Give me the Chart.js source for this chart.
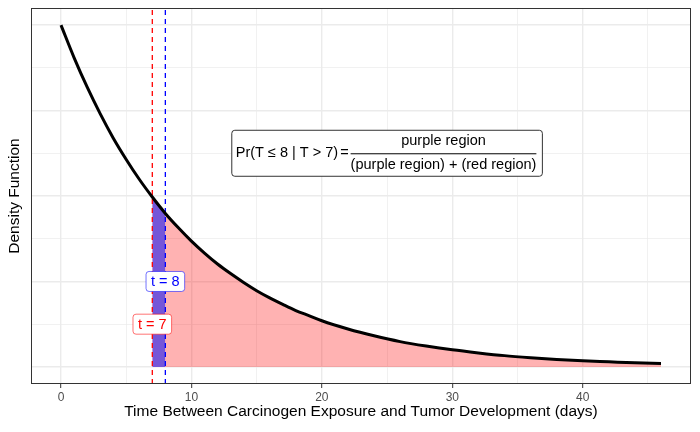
<!DOCTYPE html>
<html>
<head>
<meta charset="utf-8">
<script src="https://cdn.jsdelivr.net/npm/chart.js@4.4.0/dist/chart.umd.min.js"></script>
<style>
  html, body { margin: 0; padding: 0; background: #fff; }
  #wrap { width: 700px; height: 432px; }
</style>
</head>
<body>
<div id="wrap"><canvas id="density-chart"></canvas></div>
<script>
// time (days) and density
let days = [0, 1, 2, 3, 4, 5, 6, 7, 8, 9, 10, 11, 12, 13, 14, 15, 16, 17, 18, 19, 20,
  22, 24, 26, 28, 30, 32, 34, 36, 38, 40, 42, 44, 46];
let density = [0.1000, 0.0905, 0.0819, 0.0741, 0.0670, 0.0607, 0.0549, 0.0497, 0.0449,
  0.0407, 0.0368, 0.0333, 0.0301, 0.0273, 0.0247, 0.0223, 0.0202, 0.0183, 0.0165, 0.0150,
  0.0135, 0.0111, 0.0091, 0.0074, 0.0061, 0.0050, 0.0041, 0.0033, 0.0027, 0.0022, 0.0018,
  0.0015, 0.0012, 0.0010];

let xTicks = [0, 5, 10, 15, 20, 25, 30, 35, 40, 45];
let yGrid = [0, 0.0125, 0.025, 0.0375, 0.05, 0.0625, 0.075, 0.0875, 0.1];

let tLower = 7;
let tUpper = 8;
let xMin = -2.3, xMax = 48.3;
let yMin = -0.005, yMax = 0.105;

const FONT = '"Liberation Sans", Arial, sans-serif';

let points = days.map((d, i) => ({ x: d, y: density[i] }));
let redPoints = points.filter((p) => p.x >= tLower);
let purplePoints = points.filter((p) => p.x >= tLower && p.x <= tUpper);

function isMajor(v, step) {
  let r = v / step;
  return Math.abs(r - Math.round(r)) < 1e-6;
}

function tag(ctx, text, cx, cy, color, border) {
  ctx.font = "14.5px " + FONT;
  let w = ctx.measureText(text).width + 10;
  let h = 20;
  ctx.beginPath();
  ctx.roundRect(cx - w / 2, cy - h / 2, w, h, 3);
  ctx.fillStyle = "#fff";
  ctx.fill();
  ctx.strokeStyle = border;
  ctx.lineWidth = 1;
  ctx.stroke();
  ctx.fillStyle = color;
  ctx.textAlign = "center";
  ctx.textBaseline = "middle";
  ctx.fillText(text, cx, cy + 1);
}

const overlay = {
  id: "overlay",
  afterDatasetsDraw(chart) {
    const { ctx, chartArea: a, scales } = chart;
    const x = scales.x, y = scales.y;
    ctx.save();

    // panel border
    ctx.strokeStyle = "#333";
    ctx.lineWidth = 1;
    ctx.strokeRect(a.left + 0.5, a.top + 0.5, a.width - 1, a.height - 1);

    tag(ctx, "t = 8", x.getPixelForValue(tUpper), y.getPixelForValue(0.025), "#0000FF", "rgba(0,0,255,0.55)");
    tag(ctx, "t = 7", x.getPixelForValue(tLower), y.getPixelForValue(0.0125), "#FF0000", "rgba(255,0,0,0.55)");

    // probability formula
    let cx = x.getPixelForValue(25), cy = y.getPixelForValue(0.0625);
    ctx.font = "14.5px " + FONT;
    let lhs = "Pr(T \u2264 8 | T > 7)";
    let num = "purple region";
    let den = "(purple region) + (red region)";
    let wl = ctx.measureText(lhs).width;
    let we = ctx.measureText("=").width;
    let wd = ctx.measureText(den).width;
    let gap = 2, pad = 4;
    let bw = wl + gap + we + gap + wd + pad * 2 + 2;
    let bh = 46;
    let bx = cx - bw / 2, by = cy - bh / 2;
    ctx.beginPath();
    ctx.roundRect(bx, by, bw, bh, 3);
    ctx.fillStyle = "#fff";
    ctx.fill();
    ctx.strokeStyle = "#333";
    ctx.stroke();

    ctx.fillStyle = "#000";
    ctx.textBaseline = "middle";
    ctx.textAlign = "left";
    let tx = bx + pad;
    ctx.fillText(lhs, tx, cy);
    tx += wl + gap;
    ctx.fillText("=", tx, cy);
    tx += we + gap;
    ctx.beginPath();
    ctx.moveTo(tx, cy + 0.5);
    ctx.lineTo(tx + wd, cy + 0.5);
    ctx.strokeStyle = "#000";
    ctx.stroke();
    ctx.textAlign = "center";
    ctx.fillText(num, tx + wd / 2, cy - 12);
    ctx.fillText(den, tx + wd / 2, cy + 12);

    ctx.restore();
  },
};

new Chart(document.getElementById("density-chart"), {
  type: "line",
  data: {
    datasets: [
      {
        data: points,
        borderColor: "#000",
        borderWidth: 3,
        pointRadius: 0,
        fill: false,
        cubicInterpolationMode: "monotone",
        order: 0,
      },
      {
        data: [{ x: tLower, y: yMin }, { x: tLower, y: yMax }],
        borderColor: "#FF0000",
        borderWidth: 1.3,
        borderDash: [5, 4],
        pointRadius: 0,
        fill: false,
        order: 1,
      },
      {
        data: [{ x: tUpper, y: yMin }, { x: tUpper, y: yMax }],
        borderColor: "#0000FF",
        borderWidth: 1.3,
        borderDash: [5, 4],
        pointRadius: 0,
        fill: false,
        order: 1,
      },
      {
        data: purplePoints,
        borderWidth: 0,
        borderColor: "rgba(0,0,0,0)",
        backgroundColor: "#7556D8",
        pointRadius: 0,
        fill: "origin",
        cubicInterpolationMode: "monotone",
        order: 2,
      },
      {
        data: redPoints,
        borderWidth: 0,
        borderColor: "rgba(0,0,0,0)",
        backgroundColor: "rgba(255,0,0,0.3)",
        pointRadius: 0,
        fill: "origin",
        cubicInterpolationMode: "monotone",
        order: 3,
      },
    ],
  },
  options: {
    responsive: true,
    maintainAspectRatio: false,
    animation: false,
    layout: { padding: { top: 8, right: 9, left: 0, bottom: 0 } },
    plugins: {
      legend: { display: false },
      tooltip: { enabled: false },
    },
    scales: {
      x: {
        type: "linear",
        min: xMin,
        max: xMax,
        afterBuildTicks: (axis) => {
          axis.ticks = xTicks.map((v) => ({ value: v }));
        },
        afterFit: (scale) => {
          scale.height = 48;
        },
        border: { display: false },
        grid: {
          color: "#EBEBEB",
          lineWidth: (c) => (isMajor(c.tick.value, 10) ? 1.4 : 0.7),
          tickColor: (c) => (isMajor(c.tick.value, 10) ? "#333" : "rgba(0,0,0,0)"),
          tickWidth: 1,
          tickLength: 4,
        },
        ticks: {
          color: "#4D4D4D",
          font: { family: FONT, size: 12 },
          padding: 2,
          maxRotation: 0,
          autoSkip: false,
          callback: (v) => (isMajor(v, 10) ? v : ""),
        },
        title: {
          display: true,
          text: "Time Between Carcinogen Exposure and Tumor Development (days)",
          color: "#000",
          font: { family: FONT, size: 15.5 },
          padding: { top: 0, bottom: 11 },
        },
      },
      y: {
        type: "linear",
        min: yMin,
        max: yMax,
        afterBuildTicks: (axis) => {
          axis.ticks = yGrid.map((v) => ({ value: v }));
        },
        afterFit: (scale) => {
          scale.width = 31;
        },
        border: { display: false },
        grid: {
          color: "#EBEBEB",
          lineWidth: (c) => (isMajor(c.tick.value, 0.025) ? 1.4 : 0.7),
          drawTicks: false,
        },
        ticks: { display: false },
        title: {
          display: true,
          text: "Density Function",
          color: "#000",
          font: { family: FONT, size: 15.5 },
          padding: { top: 5, bottom: 0 },
        },
      },
    },
  },
  plugins: [overlay],
});
</script>
</body>
</html>
